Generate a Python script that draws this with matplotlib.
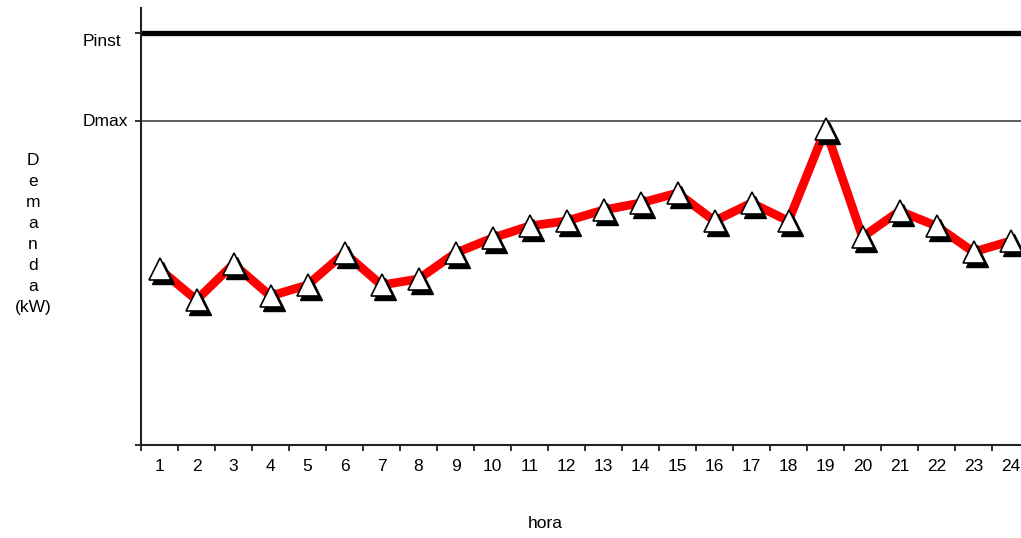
import matplotlib
matplotlib.use("Agg")
import matplotlib.pyplot as plt
import matplotlib.transforms as mtransforms
import numpy as np

plt.rcParams['font.family'] = ['Liberation Sans', 'DejaVu Sans']

# ---- data ----
horas = list(range(1, 25))
demanda = [176, 145, 181, 149, 160, 192, 160, 166, 192, 207, 219, 224,
           235, 242, 252, 224, 242, 224, 316, 208, 234, 219, 193, 204]
dmax = 324
pinst = 412
x_labels = [str(h) for h in horas]

W, H = 1021, 538
fig = plt.figure(figsize=(W / 100, H / 100), dpi=100)
ax = fig.add_axes([141 / W, 93 / H, 880 / W, 437 / H])

ax.set_xlim(0.5, 0.5 + 880 / 37)
ax.set_ylim(0, 437)

# reference lines
ax.axhline(pinst, color='black', lw=3.8, zorder=2)
ax.axhline(dmax, color='#333333', lw=1.1, zorder=2)

# demand line
ax.plot(horas, demanda, color='#ff0000', lw=6.3, solid_joinstyle='round',
        solid_capstyle='round', zorder=3)

# marker shadows
shadow = mtransforms.offset_copy(ax.transData, fig=fig, x=3, y=-4, units='dots')
ax.plot(horas, demanda, linestyle='none', marker='^', ms=15.5, mfc='black',
        mec='black', mew=1, transform=shadow, zorder=4)
ax.plot(horas, demanda, linestyle='none', marker='^', ms=15.5, mfc='white',
        mec='black', mew=1.2, zorder=5)

# spines
for s in ['top', 'right']:
    ax.spines[s].set_visible(False)
for s in ['left', 'bottom']:
    ax.spines[s].set_linewidth(1.5)
    ax.spines[s].set_color('#222222')

FS = 12.5
# x ticks at category boundaries, labels at centers
ax.set_xticks(np.arange(0.5, 24.5, 1.0))
ax.set_xticklabels([])
ax.set_xticks(horas, minor=True)
ax.set_xticklabels(x_labels, minor=True, fontsize=FS)
ax.tick_params(axis='x', which='major', length=4.5, width=1.3, direction='out', color='#222222')
ax.tick_params(axis='x', which='minor', length=0, pad=10)

ax.set_yticks([0, dmax, pinst])
ax.set_yticklabels([])
ax.tick_params(axis='y', length=4.5, width=1.3, direction='out', color='#222222')

# y labels for Dmax/Pinst
trans = mtransforms.blended_transform_factory(ax.transAxes, ax.transData)
ax.text(-13 / 880, dmax, 'Dmax', transform=trans, ha='right', va='center', fontsize=FS)
ax.text(-20 / 880, pinst - 1, 'Pinst', transform=trans, ha='right', va='top', fontsize=FS)

# axis titles
fig.text(33 / W, 1 - 234 / H, 'D\ne\nm\na\nn\nd\na\n(kW)', ha='center', va='center',
         multialignment='center', fontsize=FS, linespacing=1.5)
fig.text(545 / W, 1 - 523 / H, 'hora', ha='center', va='center', fontsize=FS)

fig.savefig('out.png', dpi=100)
